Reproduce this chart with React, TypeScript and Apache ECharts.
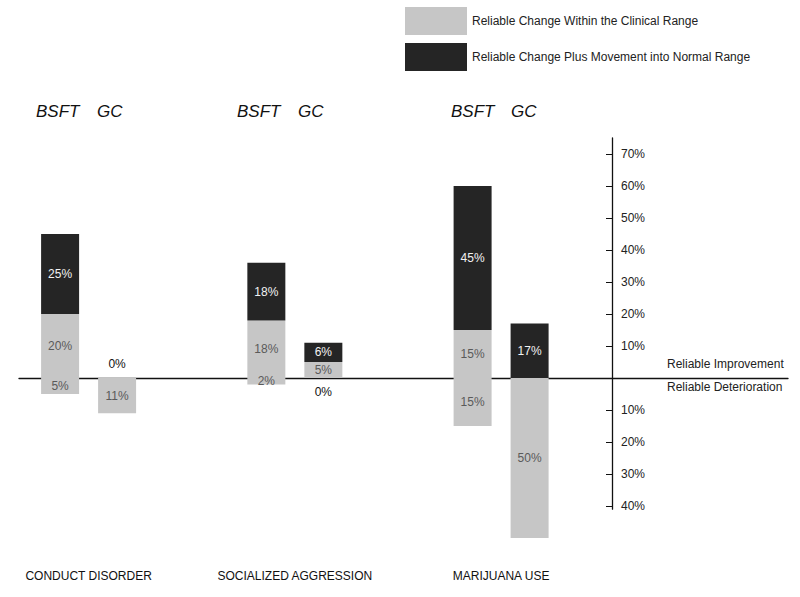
import React, { useEffect, useRef } from "react";
import * as echarts from "echarts";

const categories = ["CONDUCT DISORDER", "SOCIALIZED AGGRESSION", "MARIJUANA USE"];
const treatments = ["BSFT", "GC"];
const WITHIN = "Reliable Change Within the Clinical Range";
const NORMAL = "Reliable Change Plus Movement into Normal Range";

// improvement (positive) and deterioration (negative) percentages
const bsftWithin = [20, 18, 15];
const bsftNormal = [25, 18, 45];
const bsftDeterioration = [-5, -2, -15];
const gcWithin: (number | null)[] = [0, 5, null];
const gcNormal: (number | null)[] = [null, 6, 17];
const gcDeterioration = [-11, 0, -50];

const yTicks = [-40, -30, -20, -10, 10, 20, 30, 40, 50, 60, 70];
const improvementLabel = "Reliable Improvement";
const deteriorationLabel = "Reliable Deterioration";

const FONT = "'Liberation Sans', Arial, sans-serif";
const LIGHT = "#c6c6c6";
const DARK = "#252525";

function makeData(values: (number | null)[], zeroPos: string) {
  return values.map((v) =>
    v === 0
      ? { value: 0, label: { show: true, position: zeroPos, distance: 8, color: "#111" } }
      : v
  );
}

function barSeries(
  name: string,
  stack: string,
  values: (number | null)[],
  color: string,
  textColor: string,
  zeroPos: string,
  stackStrategy: string
) {
  return {
    type: "bar",
    name,
    stack,
    stackStrategy,
    xAxisIndex: 0,
    yAxisIndex: 0,
    barWidth: 38,
    barGap: "50%",
    clip: false,
    data: makeData(values, zeroPos),
    itemStyle: { color },
    label: {
      show: true,
      position: "inside",
      color: textColor,
      fontSize: 12,
      lineHeight: 12,
      fontFamily: FONT,
      formatter: (p: any) => (p.value == null ? "" : Math.abs(p.value) + "%"),
    },
  };
}

export default function App() {
  const ref = useRef<HTMLDivElement>(null);
  useEffect(() => {
    document.body.style.margin = "0";
    const chart = echarts.init(ref.current!, null, { renderer: "svg" });
    const groupTextPos = [
      [36, 97],
      [237, 298],
      [451, 511],
    ];
    const graphic: any[] = [];
    groupTextPos.forEach((pair) => {
      pair.forEach((x, i) => {
        graphic.push({
          type: "text",
          x,
          y: 111,
          style: {
            text: treatments[i],
            fontSize: 17,
            fontStyle: "italic",
            fontFamily: FONT,
            fill: "#111",
            verticalAlign: "middle",
          },
        });
      });
    });
    graphic.push({
      type: "text",
      x: 667,
      y: 364,
      style: { text: improvementLabel, fontSize: 12, fontFamily: FONT, fill: "#222", verticalAlign: "middle" },
    });
    graphic.push({
      type: "text",
      x: 667,
      y: 387,
      style: { text: deteriorationLabel, fontSize: 12, fontFamily: FONT, fill: "#222", verticalAlign: "middle" },
    });

    chart.setOption({
      animation: false,
      backgroundColor: "#fff",
      textStyle: { fontFamily: FONT },
      legend: {
        orient: "vertical",
        left: 405,
        top: 7,
        padding: 0,
        itemWidth: 62,
        itemHeight: 28,
        itemGap: 8,
        icon: "rect",
        selectedMode: false,
        data: [WITHIN, NORMAL],
        textStyle: { fontSize: 12, color: "#222", fontFamily: FONT },
      },
      grid: [
        { left: 88.6, width: 412.5, top: 138, height: 371.2 },
        { left: 19, right: 12, top: 138, height: 371.2 },
      ],
      xAxis: [
        {
          gridIndex: 0,
          type: "category",
          boundaryGap: false,
          data: categories,
          axisLine: { show: false },
          axisTick: { show: false },
          axisLabel: { margin: 61, fontSize: 12, color: "#111", fontFamily: FONT },
        },
        {
          gridIndex: 1,
          type: "value",
          min: 0,
          max: 1,
          axisLine: { show: true, onZero: true, lineStyle: { color: "#111", width: 1.3 } },
          axisTick: { show: false },
          axisLabel: { show: false },
          splitLine: { show: false },
        },
      ],
      yAxis: [
        { gridIndex: 0, type: "value", min: -41, max: 75, show: false },
        {
          gridIndex: 1,
          type: "value",
          min: -41,
          max: 75,
          position: "right",
          offset: -176,
          axisLine: { show: true, onZero: false, lineStyle: { color: "#111", width: 1.3 } },
          axisTick: { show: true, inside: true, length: 6, customValues: yTicks, lineStyle: { color: "#111" } },
          axisLabel: {
            customValues: yTicks,
            formatter: (v: number) => Math.abs(v) + "%",
            margin: 9,
            fontSize: 12,
            color: "#222",
            fontFamily: FONT,
          },
          splitLine: { show: false },
        },
      ],
      series: [
        barSeries(WITHIN, "BSFT", bsftWithin, LIGHT, "#5a5a5a", "top", "samesign"),
        barSeries(NORMAL, "BSFT", bsftNormal, DARK, "#f2f2f2", "top", "samesign"),
        barSeries(WITHIN, "BSFT", bsftDeterioration, LIGHT, "#5a5a5a", "bottom", "negative"),
        barSeries(WITHIN, "GC", gcWithin, LIGHT, "#5a5a5a", "top", "samesign"),
        barSeries(NORMAL, "GC", gcNormal, DARK, "#f2f2f2", "top", "samesign"),
        barSeries(WITHIN, "GC", gcDeterioration, LIGHT, "#5a5a5a", "bottom", "negative"),
      ],
      graphic,
    });
    return () => chart.dispose();
  }, []);
  return <div ref={ref} style={{ position: "fixed", left: 0, top: 0, width: 800, height: 597 }} />;
}
